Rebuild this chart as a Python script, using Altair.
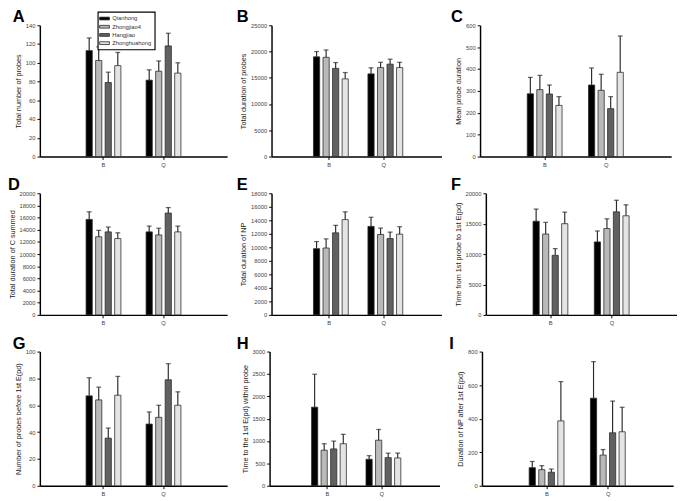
import altair as alt
import pandas as pd

groups = ["B", "Q"]
cultivars = ["Qianhong", "Zhongjiao4", "Hangjiao", "Zhonghuahong"]
colors = ["#000000", "#b9b9b9", "#616161", "#e4e4e4"]

letters = ["A", "B", "C", "D", "E", "F", "G", "H", "I"]
ytitles = [
    "Total number of probes",
    "Total duration of probes",
    "Mean probe duration",
    "Total duration of C summed",
    "Total duration of NP",
    "Time from 1st probe to 1st E(pd)",
    "Number of probes before 1st E(pd)",
    "Time to the 1st E(pd) within probe",
    "Duration of NP after 1st E(pd)",
]
ymax = [140, 25000, 600, 20000, 18000, 20000, 100, 3000, 800]
ystep = [20, 5000, 100, 2000, 2000, 5000, 20, 500, 200]

# means: B group (4 cultivars) then Q group (4 cultivars)
means_A = [113, 102.5, 79, 97, 81.5, 91, 118, 89]
errs_A = [13.5, 14.5, 11, 14, 11, 11, 13.5, 11]
means_B = [19000, 18900, 16800, 14800, 15750, 16950, 17600, 16950]
errs_B = [1000, 1400, 1100, 1200, 1150, 1000, 950, 1000]
means_C = [287, 306, 286, 234, 327, 303, 219, 385]
errs_C = [75, 65, 41, 40, 78, 73, 55, 166]
means_D = [15700, 12850, 13650, 12550, 13650, 13150, 16750, 13650]
errs_D = [1250, 1050, 800, 950, 950, 1100, 900, 950]
means_E = [9800, 9900, 12150, 14100, 13100, 11900, 11300, 11950]
errs_E = [1050, 1350, 1100, 1150, 1350, 950, 950, 1100]
means_F = [15400, 13300, 9800, 15000, 12000, 14200, 16950, 16300]
errs_F = [2000, 1900, 1100, 1900, 1800, 1600, 1900, 1800]
means_G = [67, 64, 35.5, 67.5, 46, 51, 79, 60]
errs_G = [13.5, 9.5, 7.5, 14, 9, 9, 12, 10]
means_H = [1757, 795, 824, 940, 593, 1019, 629, 622]
errs_H = [737, 145, 175, 210, 80, 240, 100, 108]
means_I = [108, 96, 81, 387, 522, 183, 316, 322]
errs_I = [37, 24, 19, 234, 218, 33, 189, 146]

all_means = [means_A, means_B, means_C, means_D, means_E, means_F, means_G, means_H, means_I]
all_errs = [errs_A, errs_B, errs_C, errs_D, errs_E, errs_F, errs_G, errs_H, errs_I]

widths = [194, 176, 198]
heights = [136, 126, 139]
letter_dx = [-28, -36, -30, -33, -36, -36, -28, -34, -34]

FONT = "Liberation Sans"


def panel(i):
    m = all_means[i]
    e = all_errs[i]
    df = pd.DataFrame({
        "group": [g for g in groups for _ in cultivars],
        "cultivar": cultivars * len(groups),
        "mean": m,
        "top": [a + b for a, b in zip(m, e)],
    })
    base = alt.Chart(df).encode(
        x=alt.X("group:N",
                scale=alt.Scale(domain=groups, paddingInner=0.42, paddingOuter=0.77),
                axis=alt.Axis(title=None, labelAngle=0, ticks=True, tickSize=3)),
        xOffset=alt.XOffset("cultivar:N",
                            scale=alt.Scale(domain=cultivars, paddingInner=0.35)),
    )
    yscale = alt.Scale(domain=[0, ymax[i]], nice=False, zero=True)
    yaxis = alt.Axis(title=ytitles[i],
                     values=list(range(0, ymax[i] + 1, ystep[i])),
                     format="d", labelOverlap=False)
    bars = base.mark_bar(stroke="#2a2a2a", strokeWidth=0.8).encode(
        y=alt.Y("mean:Q", scale=yscale, axis=yaxis),
        color=alt.Color("cultivar:N", scale=alt.Scale(domain=cultivars, range=colors),
                        title=None),
    )
    rules = base.mark_rule(color="#2a2a2a", strokeWidth=1.2).encode(
        y=alt.Y("mean:Q", scale=yscale, axis=yaxis), y2="top:Q")
    caps = base.mark_tick(color="#2a2a2a", thickness=1.3, size=5).encode(
        y=alt.Y("top:Q", scale=yscale, axis=yaxis))
    letter = alt.Chart(pd.DataFrame({"letter": [letters[i]]})).mark_text(
        font=FONT, fontSize=17, fontWeight="bold", color="#000",
        align="left", baseline="alphabetic",
    ).encode(text="letter:N", x=alt.value(letter_dx[i]), y=alt.value(-3))
    return alt.layer(bars, rules, caps, letter).properties(
        width=widths[i % 3], height=heights[i // 3],
    )


rows = []
for r in range(3):
    rows.append(alt.hconcat(*[panel(r * 3 + c) for c in range(3)], spacing=10))

chart = alt.vconcat(*rows, spacing=10).properties(
    padding={"top": -8, "left": 0, "right": 0, "bottom": 0}
).configure_view(
    stroke=None
).configure_axis(
    domainColor="#000", domainWidth=1.5, tickColor="#000", tickWidth=1,
    labelFont=FONT, labelFontSize=6, labelColor="#444",
    titleFont=FONT, titleFontSize=7.5, titleFontWeight="normal", titleColor="#222",
    grid=False, labelPadding=2, titlePadding=3, labelOverlap=False,
).configure_axisY(tickSize=3, labelOverlap=False).configure_legend(
    orient="none", legendX=60, legendY=-14,
    strokeColor="#000", strokeWidth=1.2, fillColor="#fff", padding=3,
    labelFont=FONT, labelFontSize=6, labelColor="#333",
    symbolType="M-1.6,-0.45H1.6V0.45H-1.6Z", symbolSize=40,
    symbolStrokeColor="#222", symbolStrokeWidth=0.8, rowPadding=0.5,
    labelOffset=4, cornerRadius=0,
)

chart.save("out.html", embed_options={"renderer": "svg", "actions": False})
